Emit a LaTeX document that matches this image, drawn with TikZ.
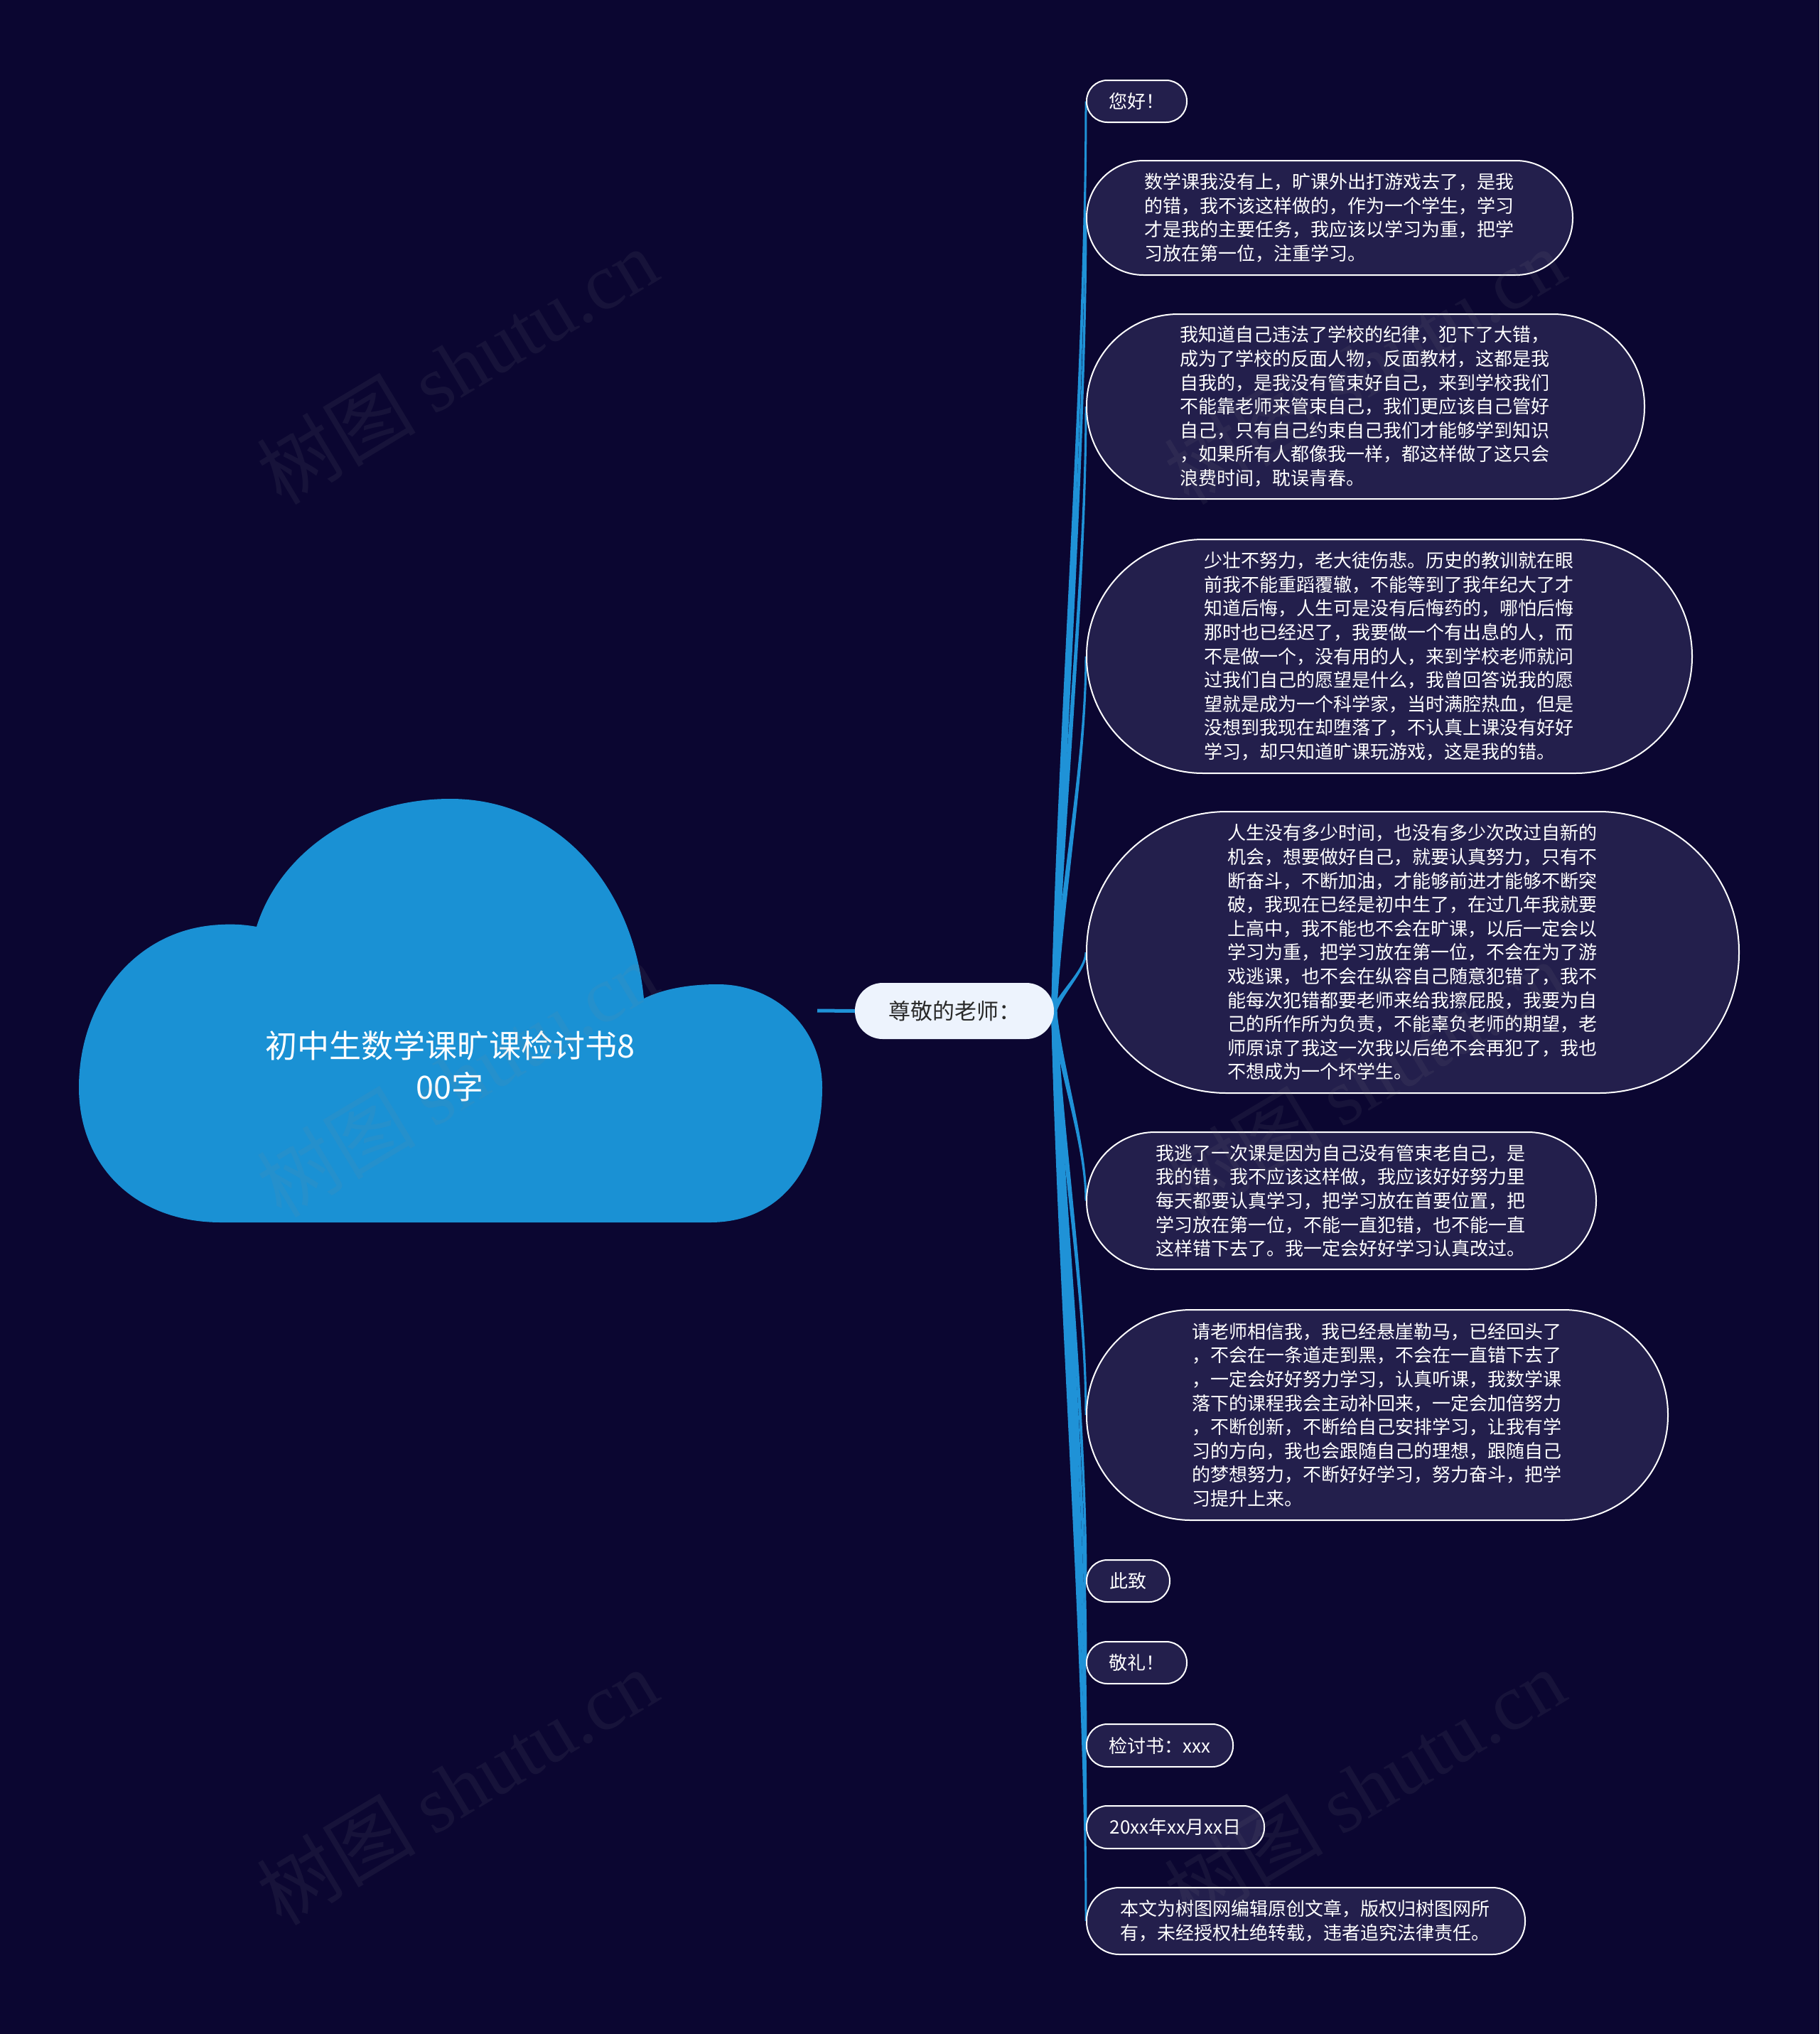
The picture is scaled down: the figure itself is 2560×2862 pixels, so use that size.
\documentclass[tikz,border=0pt]{standalone}
\usepackage{fontspec}
\setmainfont{Noto Sans CJK SC}
\newfontfamily\wmserif{Liberation Serif}
\usetikzlibrary{calc}
\pgfdeclarelayer{bottom}
\pgfdeclarelayer{background}
\pgfsetlayers{bottom,background,main}
\definecolor{bgc}{HTML}{0B0631}
\definecolor{bubc}{HTML}{231F4C}
\definecolor{cloudc}{HTML}{1A91D4}
\definecolor{linkc}{HTML}{1F92D7}
\definecolor{hubc}{HTML}{EDF3FD}
\definecolor{hubtext}{HTML}{2A2A2A}
\definecolor{wmc}{HTML}{8A8A8A}
\tikzset{
  bubble/.style={draw=white, line width=2pt, fill=bubc, text=white,
    font=\fontsize{26pt}{33.6pt}\selectfont, inner sep=0pt},
  longtext/.style={text width=522pt, align=left},
  wmark/.style={text=wmc, opacity=0.1, rotate=31,
    font=\fontsize{112pt}{112pt}\selectfont, inner sep=0pt},
}
% tapered connector from the east side of #1 to the west side of #2
\newcommand\taperlink[2]{%
  \fill[linkc] let \p1=(#1.east), \p2=(#2.west), \n1={0.3*(\y2-\y1)} in
    ({\x1-4pt},\y1) .. controls ({\x1+8pt-4pt},{\y1+(\n1)*1pt}) and ({\x2-1.5pt},{\y2-(\n1)*1pt}) .. ({\x2-1.5pt},\y2)
    -- ({\x2+1.5pt},\y2) .. controls ({\x2+1.5pt},{\y2-(\n1)*1pt}) and ({\x1+8pt+4pt},{\y1+(\n1)*1pt}) .. ({\x1+4pt},\y1) -- cycle;}
\begin{document}
\begin{tikzpicture}[x=1pt,y=-1pt]
\useasboundingbox (0,0) rectangle (2560,2862);
\begin{pgfonlayer}{bottom}
\fill[bgc] (0,0) rectangle (2560,2862);
\end{pgfonlayer}

% cloud
\fill[cloudc] (311,1720) -- (999,1720)
  .. controls (1100,1720) and (1157,1640) .. (1157,1530)
  .. controls (1157,1445) and (1090,1385) .. (1010,1385)
  .. controls (965,1385) and (930,1393) .. (906,1405)
  .. controls (890,1240) and (780,1124) .. (634,1124)
  .. controls (490,1124) and (390,1210) .. (361,1304)
  .. controls (345,1301) and (328,1300) .. (311,1301)
  .. controls (190,1306) and (111,1410) .. (111,1530)
  .. controls (111,1640) and (190,1720) .. (311,1720) -- cycle;
\node[text=white, align=center, font=\fontsize{45pt}{58pt}\selectfont] (title) at (633,1500) {初中生数学课旷课检讨书8\\00字};
\coordinate (cloudR) at (1150,1422);

% hub
\node[fill=hubc, text=hubtext, rounded corners=39pt, minimum width=280pt, minimum height=79pt,
  font=\fontsize{31pt}{36pt}\selectfont, inner sep=0pt] (hub) at (1343,1422.5) {尊敬的老师：};
\draw[linkc, line width=5pt] (cloudR) -- (hub.west);

% children
\node[bubble, minimum width=141pt, minimum height=59pt, rounded corners=29pt] (hello) at (1599.5,142.5) {您好！};
\node[bubble, longtext, minimum width=684pt, minimum height=161pt, rounded corners=80pt] (b2) at (1871,306.5)
{数学课我没有上，旷课外出打游戏去了，是我\\的错，我不该这样做的，作为一个学生，学习\\才是我的主要任务，我应该以学习为重，把学\\习放在第一位，注重学习。};
\node[bubble, longtext, minimum width=785pt, minimum height=260pt, rounded corners=129pt] (b3) at (1921.5,572)
{我知道自己违法了学校的纪律，犯下了大错，\\成为了学校的反面人物，反面教材，这都是我\\自我的，是我没有管束好自己，来到学校我们\\不能靠老师来管束自己，我们更应该自己管好\\自己，只有自己约束自己我们才能够学到知识\\，如果所有人都像我一样，都这样做了这只会\\浪费时间，耽误青春。};
\node[bubble, longtext, minimum width=852pt, minimum height=329pt, rounded corners=164pt] (b4) at (1955,923.5)
{少壮不努力，老大徒伤悲。历史的教训就在眼\\前我不能重蹈覆辙，不能等到了我年纪大了才\\知道后悔，人生可是没有后悔药的，哪怕后悔\\那时也已经迟了，我要做一个有出息的人，而\\不是做一个，没有用的人，来到学校老师就问\\过我们自己的愿望是什么，我曾回答说我的愿\\望就是成为一个科学家，当时满腔热血，但是\\没想到我现在却堕落了，不认真上课没有好好\\学习，却只知道旷课玩游戏，这是我的错。};
\node[bubble, longtext, minimum width=918pt, minimum height=396pt, rounded corners=197pt] (b5) at (1988,1340)
{人生没有多少时间，也没有多少次改过自新的\\机会，想要做好自己，就要认真努力，只有不\\断奋斗，不断加油，才能够前进才能够不断突\\破，我现在已经是初中生了，在过几年我就要\\上高中，我不能也不会在旷课，以后一定会以\\学习为重，把学习放在第一位，不会在为了游\\戏逃课，也不会在纵容自己随意犯错了，我不\\能每次犯错都要老师来给我擦屁股，我要为自\\己的所作所为负责，不能辜负老师的期望，老\\师原谅了我这一次我以后绝不会再犯了，我也\\不想成为一个坏学生。};
\node[bubble, longtext, minimum width=717pt, minimum height=193pt, rounded corners=96pt] (b6) at (1887.5,1689.5)
{我逃了一次课是因为自己没有管束老自己，是\\我的错，我不应该这样做，我应该好好努力里\\每天都要认真学习，把学习放在首要位置，把\\学习放在第一位，不能一直犯错，也不能一直\\这样错下去了。我一定会好好学习认真改过。};
\node[bubble, longtext, minimum width=818pt, minimum height=296pt, rounded corners=147pt] (b7) at (1938,1991)
{请老师相信我，我已经悬崖勒马，已经回头了\\，不会在一条道走到黑，不会在一直错下去了\\，一定会好好努力学习，认真听课，我数学课\\落下的课程我会主动补回来，一定会加倍努力\\，不断创新，不断给自己安排学习，让我有学\\习的方向，我也会跟随自己的理想，跟随自己\\的梦想努力，不断好好学习，努力奋斗，把学\\习提升上来。};
\node[bubble, minimum width=117pt, minimum height=59pt, rounded corners=29pt] (cizhi) at (1587.5,2224.5) {此致};
\node[bubble, minimum width=141pt, minimum height=59pt, rounded corners=29pt] (jingli) at (1599.5,2339.5) {敬礼！};
\node[bubble, minimum width=206pt, minimum height=60pt, rounded corners=29pt] (jiantao) at (1632,2456) {检讨书：xxx};
\node[bubble, minimum width=250pt, minimum height=60pt, rounded corners=29pt] (date) at (1654,2571) {20xx年xx月xx日};
\node[bubble, longtext, minimum width=617pt, minimum height=94pt, rounded corners=46pt] (note) at (1837.5,2703)
{本文为树图网编辑原创文章，版权归树图网所\\有，未经授权杜绝转载，违者追究法律责任。};

% connectors (behind the nodes)
\begin{pgfonlayer}{background}
\foreach \c in {hello,b2,b3,b4,b5,b6,b7,cizhi,jingli,jiantao,date,note}{\taperlink{hub}{\c}}
\end{pgfonlayer}

% watermarks
\node[wmark] (wm1) at (643,515) {树图 {\wmserif shutu.cn}};
\node[wmark] (wm2) at (643,1518) {树图 {\wmserif shutu.cn}};
\node[wmark] (wm3) at (643,2514) {树图 {\wmserif shutu.cn}};
\node[wmark] (wm4) at (1920,515) {树图 {\wmserif shutu.cn}};
\node[wmark] (wm5) at (1920,1518) {树图 {\wmserif shutu.cn}};
\node[wmark] (wm6) at (1920,2514) {树图 {\wmserif shutu.cn}};
\end{tikzpicture}
\end{document}
